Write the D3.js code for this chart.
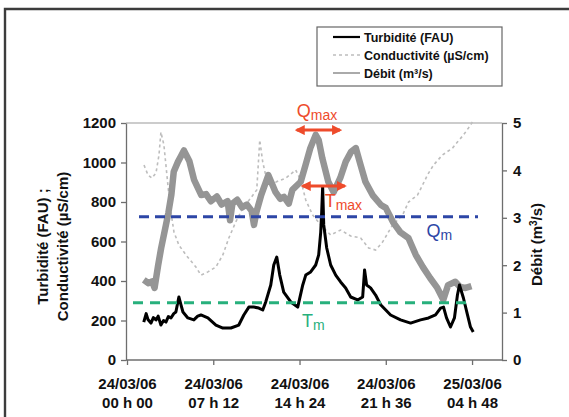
<!DOCTYPE html>
<html>
<head>
<meta charset="utf-8">
<script src="https://cdn.jsdelivr.net/npm/d3@7"></script>
<style>
  body { margin: 0; background: #fff; }
  svg { display: block; font-family: "Liberation Sans", Arial, sans-serif; }
  .tick text { font-weight: bold; font-size: 15px; fill: #111; }
  .axis path, .axis line { stroke: #6e6e6e; stroke-width: 1.3; }
</style>
</head>
<body>
<svg id="chart" width="569" height="417"></svg>
<script>
// time in hours since 24/03/06 00 h 00
const turbHours = [1.4, 1.6, 1.75, 2.0, 2.2, 2.42, 2.6, 2.83, 3.05, 3.25, 3.45, 3.67, 3.9, 4.08, 4.33, 4.5, 4.67, 5.08,
  5.58, 5.9, 6.17, 6.75, 7.42, 8.0, 8.67, 9.33, 9.75, 10.17, 10.58, 11.0, 11.33, 11.58, 12.0, 12.25, 12.5, 12.75,
  13.08, 13.67, 14.25, 14.67, 14.92, 15.33, 15.75, 16.0, 16.17, 16.25, 16.33, 16.42, 16.67, 17.0, 17.42, 17.83,
  18.25, 18.67, 19.25, 19.67, 19.83, 20.0, 20.33, 20.75, 21.17, 22.0, 22.83, 23.67, 24.5, 25.17, 25.75, 26.17,
  26.42, 26.67, 27.0, 27.33, 27.58, 27.75, 28.08, 28.42, 28.67, 28.9];
const turbValues = [192, 235, 205, 187, 215, 203, 222, 177, 200, 192, 220, 213, 235, 243, 319, 280, 243, 213,
  203, 222, 228, 213, 177, 162, 162, 177, 228, 268, 268, 263, 253, 294, 380, 481, 521, 430,
  344, 294, 268, 380, 430, 446, 481, 532, 648, 749, 876, 684, 567, 481, 430, 395,
  365, 319, 304, 319, 456, 380, 365, 329, 280, 228, 203, 187, 203, 213, 228, 263,
  268, 213, 167, 213, 329, 380, 314, 228, 167, 142];

const condHours = [1.42, 1.75, 2.08, 2.42, 2.67, 2.83, 3.08, 3.33, 3.58, 3.92, 4.33, 4.92, 5.75, 6.17, 6.75, 7.42,
  8.0, 8.5, 9.08, 9.67, 10.33, 10.83, 11.08, 11.33, 11.67, 12.42, 13.25, 14.08, 14.5, 14.92, 15.5, 16.17, 17.0,
  17.83, 18.67, 19.5, 20.17, 20.75, 21.33, 22.17, 23.0, 23.5, 24.25, 24.67, 25.08, 25.58, 26.33, 27.17, 27.58,
  28.08, 28.5, 28.83];
const condValues = [987, 937, 921, 947, 1038, 1154, 1089, 937, 785, 648, 582, 532, 471, 430, 446, 471,
  532, 618, 699, 770, 820, 861, 1114, 1002, 911, 901, 921, 962, 911, 810, 734, 684, 633,
  658, 628, 618, 567, 557, 597, 684, 734, 800, 835, 886, 937, 987, 1038, 1073, 1104,
  1139, 1175, 1205];

const debitHours = [1.4, 1.8, 2.1, 2.3, 2.6, 2.85, 3.25, 3.45, 3.7, 3.9, 4.25, 4.5, 4.75, 5.0, 5.2, 5.6, 6.2, 6.6,
  7.0, 7.5, 7.9, 8.4, 8.6, 8.8, 9.2, 9.6, 10.0, 10.4, 10.6, 10.8, 11.2, 11.8, 12.4, 12.8, 13.1, 13.5, 13.8,
  14.5, 14.9, 15.3, 15.75, 16.0, 16.3, 16.8, 17.25, 17.8, 18.25, 18.7, 19.1, 19.5, 19.9, 20.5, 21.2, 21.6,
  22.2, 22.8, 23.5, 24.1, 24.7, 25.3, 25.9, 26.4, 26.8, 27.4, 27.8, 28.25, 28.75];
const debitValues = [1.69, 1.62, 1.66, 1.52, 2.0, 2.36, 2.85, 3.1, 3.48, 3.97, 4.18, 4.3, 4.42, 4.3, 4.2, 3.8, 3.48, 3.5,
  3.35, 3.45, 3.28, 3.35, 2.95, 3.3, 3.38, 3.22, 3.28, 3.15, 2.85, 3.12, 3.48, 3.9, 3.54, 3.4, 3.44, 3.3, 3.59,
  3.76, 4.11, 4.47, 4.75, 4.64, 4.26, 3.76, 3.54, 3.84, 4.18, 4.39, 4.47, 4.11, 3.76, 3.48, 3.27, 3.21,
  2.91, 2.7, 2.57, 2.22, 1.96, 1.73, 1.52, 1.27, 1.58, 1.65, 1.54, 1.52, 1.56];

const leftTicks = [0, 200, 400, 600, 800, 1000, 1200];
const rightTicks = [0, 1, 2, 3, 4, 5];
const xTickHours = [0, 7.2, 14.4, 21.6, 28.8];
const xTickDates = ["24/03/06", "24/03/06", "24/03/06", "24/03/06", "25/03/06"];
const xTickTimes = ["00 h 00", "07 h 12", "14 h 24", "21 h 36", "04 h 48"];

// reference levels and annotation spans
const qMean = 3.02;            // m3/s
const tMean = 290;             // FAU
const qMaxSpan = [14.0, 17.95];
const qMaxLevel = 4.85;
const tMaxSpan = [14.5, 18.35];
const tMaxLevel = 881;

const svg = d3.select('#chart');
const W = 569, H = 417;
const plot = { left: 126, right: 502, top: 123, bottom: 360 };

svg.append('rect').attr('width', W).attr('height', H).attr('fill', '#fff');

// outer frame (only left + top visible)
svg.append('path')
  .attr('d', `M5,${H} V9 H${W}`)
  .attr('fill', 'none').attr('stroke', '#3c3c3c').attr('stroke-width', 2.4);

const x = d3.scaleLinear().domain([0, 31.3]).range([plot.left + 1, plot.right]);
const yL = d3.scaleLinear().domain([0, 1200]).range([plot.bottom, plot.top]);
const yR = d3.scaleLinear().domain([0, 5]).range([plot.bottom, plot.top]);

// plot top border
svg.append('line')
  .attr('x1', plot.left).attr('x2', plot.right)
  .attr('y1', plot.top).attr('y2', plot.top)
  .attr('stroke', '#9a9a9a').attr('stroke-width', 1.2);

// axes
const fmt = d3.format('d');
svg.append('g').attr('class', 'axis')
  .attr('transform', `translate(${plot.left},0)`)
  .call(d3.axisLeft(yL).tickValues(leftTicks).tickFormat(fmt).tickSize(5).tickSizeOuter(0).tickPadding(5));
svg.append('g').attr('class', 'axis')
  .attr('transform', `translate(${plot.right},0)`)
  .call(d3.axisRight(yR).tickValues(rightTicks).tickFormat(fmt).tickSize(5).tickSizeOuter(0).tickPadding(6));
const gX = svg.append('g').attr('class', 'axis')
  .attr('transform', `translate(0,${plot.bottom})`)
  .call(d3.axisBottom(x).tickValues(xTickHours).tickSize(5).tickSizeOuter(0).tickFormat(''));
gX.select('.domain').attr('d', `M${plot.left},0H${plot.right}`);

gX.selectAll('.tick').each(function(d, i) {
  const t = d3.select(this).append('text')
    .attr('text-anchor', 'middle').attr('fill', '#111')
    .style('font-weight', 'bold').style('font-size', '15px');
  t.append('tspan').attr('x', 0).attr('y', 29).text(xTickDates[i]);
  t.append('tspan').attr('x', 0).attr('y', 48).text(xTickTimes[i]);
});

// axis titles
const titleL = svg.append('text')
  .attr('transform', `translate(48,${(plot.top + plot.bottom) / 2 + 5}) rotate(-90)`)
  .attr('text-anchor', 'middle')
  .style('font-weight', 'bold').style('font-size', '15px').attr('fill', '#111');
titleL.append('tspan').attr('x', 0).attr('y', 0).text('Turbidité (FAU) ;');
titleL.append('tspan').attr('x', 0).attr('y', 20).text('Conductivité (µS/cm)');

svg.append('text')
  .attr('transform', `translate(542,${(plot.top + plot.bottom) / 2 + 3}) rotate(-90)`)
  .attr('text-anchor', 'middle')
  .style('font-weight', 'bold').style('font-size', '15px').attr('fill', '#111')
  .html('Débit (m<tspan dy="-5" font-size="10px">3</tspan><tspan dy="5">/s)</tspan>');

// series
const condLine = d3.line().x(d => x(d[0])).y(d => yL(d[1]));
const debitLine = d3.line().x(d => x(d[0])).y(d => yR(d[1]));

svg.append('path')
  .datum(d3.zip(condHours, condValues))
  .attr('d', condLine)
  .attr('fill', 'none').attr('stroke', '#bdbdbd')
  .attr('stroke-width', 1.6).attr('stroke-dasharray', '3,3');

svg.append('path')
  .datum(d3.zip(debitHours, debitValues))
  .attr('d', debitLine)
  .attr('fill', 'none').attr('stroke', '#959595')
  .attr('stroke-width', 6.5).attr('stroke-linejoin', 'round');

svg.append('path')
  .datum(d3.zip(turbHours, turbValues))
  .attr('d', condLine)
  .attr('fill', 'none').attr('stroke', '#000')
  .attr('stroke-width', 3).attr('stroke-linejoin', 'round');

// mean levels
svg.append('line')
  .attr('x1', 139).attr('x2', 478)
  .attr('y1', yR(qMean)).attr('y2', yR(qMean))
  .attr('stroke', '#2d46a6').attr('stroke-width', 3).attr('stroke-dasharray', '10,6');
svg.append('line')
  .attr('x1', 133).attr('x2', 470)
  .attr('y1', yL(tMean)).attr('y2', yL(tMean))
  .attr('stroke', '#27b07c').attr('stroke-width', 3).attr('stroke-dasharray', '10,7');

// arrows
const red = '#ee4b2b';
const defs = svg.append('defs');
defs.append('marker')
  .attr('id', 'head').attr('viewBox', '0 0 10 10')
  .attr('refX', 8).attr('refY', 5)
  .attr('markerWidth', 10).attr('markerHeight', 10)
  .attr('markerUnits', 'userSpaceOnUse')
  .attr('orient', 'auto-start-reverse')
  .append('path').attr('d', 'M0,0 L10,5 L0,10 z').attr('fill', red);

function arrow(span, yPos) {
  svg.append('line')
    .attr('x1', x(span[0]) + 2).attr('x2', x(span[1]) - 2)
    .attr('y1', yPos).attr('y2', yPos)
    .attr('stroke', red).attr('stroke-width', 3)
    .attr('marker-start', 'url(#head)').attr('marker-end', 'url(#head)');
}
arrow(qMaxSpan, yR(qMaxLevel));
arrow(tMaxSpan, yL(tMaxLevel));

function subLabel(px, py, main, sub, color) {
  const t = svg.append('text').attr('x', px).attr('y', py).attr('fill', color)
    .style('font-size', '18px');
  t.append('tspan').text(main);
  t.append('tspan').attr('dy', 3).style('font-size', '14px').text(sub);
}
subLabel(x(qMaxSpan[0]) + 2, yR(qMaxLevel) - 13, 'Q', 'max', red);
subLabel(x(16.5), yL(tMaxLevel) + 21, 'T', 'max', red);
subLabel(x(25.0), yR(qMean) + 20, 'Q', 'm', '#2d46a6');
subLabel(x(14.6), yL(tMean) + 24, 'T', 'm', '#27b07c');

// legend
const lg = svg.append('g');
lg.append('rect').attr('x', 317).attr('y', 27).attr('width', 185).attr('height', 59)
  .attr('fill', '#fff').attr('stroke', '#666').attr('stroke-width', 1.2);
const legendItems = [
  { label: 'Turbidité (FAU)', stroke: '#000', width: 2.2, dash: null },
  { label: 'Conductivité (µS/cm)', stroke: '#bdbdbd', width: 1.6, dash: '3,3' },
  { label: 'Débit (m³/s)', stroke: '#959595', width: 1.6, dash: null }
];
legendItems.forEach((it, i) => {
  const yy = 37 + i * 18;
  lg.append('line').attr('x1', 333).attr('x2', 360).attr('y1', yy).attr('y2', yy)
    .attr('stroke', it.stroke).attr('stroke-width', it.width)
    .attr('stroke-dasharray', it.dash);
  lg.append('text').attr('x', 364).attr('y', yy).attr('dy', '0.36em')
    .style('font-weight', 'bold').style('font-size', '12.5px').attr('fill', '#111')
    .text(it.label);
});
</script>
</body>
</html>
